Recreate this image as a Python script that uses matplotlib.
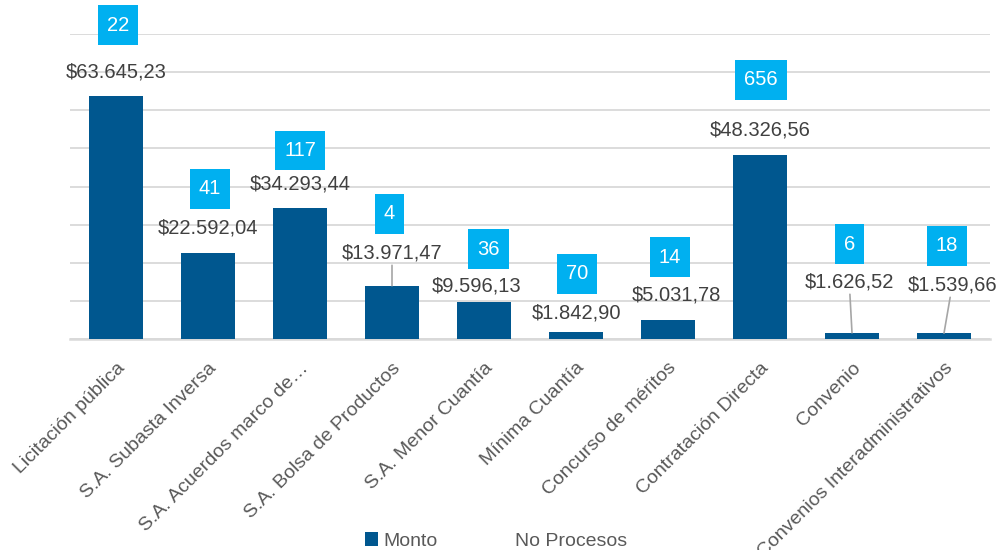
import numpy as np
import matplotlib
matplotlib.use("Agg")
import matplotlib.pyplot as plt
from matplotlib.path import Path
from matplotlib.patches import Patch
from matplotlib.transforms import ScaledTranslation

plt.rcParams['font.family'] = ['Liberation Sans', 'DejaVu Sans']

# data
categorias = ["Licitación pública", "S.A. Subasta Inversa", "S.A. Acuerdos marco de…",
              "S.A. Bolsa de Productos", "S.A. Menor Cuantía", "Mínima Cuantía",
              "Concurso de méritos", "Contratación Directa", "Convenio",
              "Convenios Interadministrativos"]
monto = [63645.23, 22592.04, 34293.44, 13971.47, 9596.13, 1842.90, 5031.78,
         48326.56, 1626.52, 1539.66]
monto_txt = ["$63.645,23", "$22.592,04", "$34.293,44", "$13.971,47", "$9.596,13",
             "$1.842,90", "$5.031,78", "$48.326,56", "$1.626,52", "$1.539,66"]
no_procesos = [22, 41, 117, 4, 36, 70, 14, 656, 6, 18]

# where Excel left the labels (y in data units, x shift in category units)
monto_lbl_y = [70000, 29100, 40650, 22550, 13900, 6800, 11550, 54800, 14950, 14150]
monto_lbl_dx = [0, 0, 0, 0, -0.08, 0.01, 0.09, 0, -0.03, 0.09]
proc_lbl_y = [82350, 39350, 49550, 32800, 23600, 17050, 21500, 67950, 24900, 24400]
proc_lbl_dx = [0.02, 0.02, 0, -0.03, 0.05, 0.01, 0.02, 0.01, -0.03, 0.03]
leader = [False, False, False, True, False, False, False, False, True, True]

azul = '#00578F'
cian = '#00B0F0'
gris = '#D9D9D9'


def caja(x0, y0, width, height, mutation_size):
    # square box, padding like the Excel labels
    px = 0.44 * mutation_size
    py = 0.5 * mutation_size
    x0, y0 = x0 - px, y0 - py
    x1, y1 = x0 + width + 2 * px, y0 + height + 2 * py
    return Path([(x0, y0), (x1, y0), (x1, y1), (x0, y1), (x0, y0)], closed=True)


fig = plt.figure(figsize=(10.03, 5.5), dpi=100)
ax = fig.add_axes([70 / 1003, 211 / 550, 920 / 1003, 305 / 550])

x = np.arange(len(categorias))
ax.bar(x, monto, width=0.59, color=azul, zorder=3)

ax.set_xlim(-0.5, len(categorias) - 0.5)
ax.set_ylim(0, 80000)
ax.set_yticks(np.arange(0, 80001, 10000))
ax.set_yticklabels([])
ax.tick_params(axis='y', length=0)
ax.grid(axis='y', color=gris, linewidth=1.3, zorder=0)
for s in ['top', 'right', 'left']:
    ax.spines[s].set_visible(False)
ax.spines['bottom'].set_color(gris)
ax.spines['bottom'].set_linewidth(1.8)

ax.set_xticks(x)
ax.set_xticklabels(categorias, fontsize=14, color='#595959')
ax.tick_params(axis='x', length=0, pad=19)
desp = ScaledTranslation(6 / 100, 0, fig.dpi_scale_trans)
for lbl in ax.get_xticklabels():
    lbl.set_rotation(45)
    lbl.set_ha('right')
    lbl.set_va('center')
    lbl.set_rotation_mode('anchor')
    lbl.set_transform(lbl.get_transform() + desp)

for i in range(len(categorias)):
    props = None
    if leader[i]:
        props = dict(arrowstyle='-', color='#A6A6A6', lw=1.2, shrinkA=0, shrinkB=0)
    ax.annotate(monto_txt[i], xy=(x[i], monto[i]),
                xytext=(x[i] + monto_lbl_dx[i], monto_lbl_y[i]),
                ha='center', va='center', fontsize=14.5, color='#404040',
                arrowprops=props, zorder=4)
    ax.text(x[i] + proc_lbl_dx[i], proc_lbl_y[i], str(no_procesos[i]),
            ha='center', va='center', fontsize=14.5, color='white', zorder=5,
            bbox=dict(boxstyle=caja, facecolor=cian, edgecolor='none'))

handles = [Patch(facecolor=azul, edgecolor='none'),
           Patch(facecolor='none', edgecolor='none')]
fig.legend(handles, ['Monto', 'No Procesos'], loc='center',
           bbox_to_anchor=(0.4945, 0.016), ncol=2, frameon=False,
           fontsize=14, labelcolor='#595959', handlelength=0.7,
           handleheight=0.7, handletextpad=0.25, columnspacing=3.05)

fig.savefig('out.png', dpi=100)
